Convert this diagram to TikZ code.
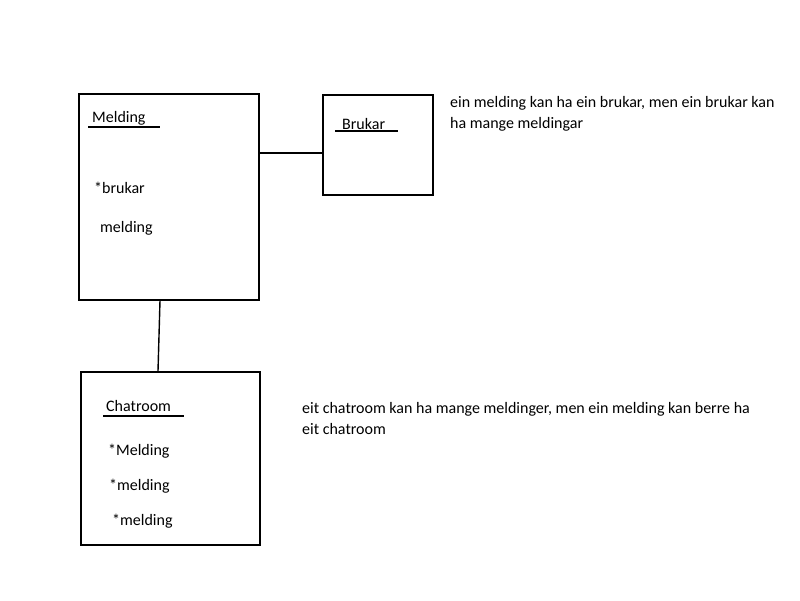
\documentclass[tikz,border=0pt]{standalone}
\usepackage{fontspec}
\setmainfont{Carlito}
\begin{document}
\begin{tikzpicture}[x=1pt,y=-1pt,
  box/.style={draw=black,line width=1.6pt,inner sep=0pt,anchor=north west},
  txt/.style={anchor=west,inner sep=0pt,font=\fontsize{16}{21}\selectfont},
  link/.style={draw=black,line width=1.4pt},
  uline/.style={draw=black,line width=1.2pt}]
\useasboundingbox (0,0) rectangle (800,600);
% boxes
\node[box,minimum width=180pt,minimum height=206pt] (melding) at (78,93) {};
\node[box,minimum width=110pt,minimum height=100pt] (brukar) at (322,94) {};
\node[box,minimum width=179pt,minimum height=173pt] (chatroom) at (80,371) {};
% connectors
\draw[link] (melding.east |- 0,153) -- (brukar.west |- 0,153);
\draw[link] (melding.south -| 160,0) -- (chatroom.north -| 158,0);
% titles
\node[txt] (tmelding) at (92,118) {Melding};
\draw[uline] (88,127) -- (160,127);
\node[txt] (tbrukar) at (342,124) {Brukar};
\draw[uline] (335,131) -- (398,131);
\node[txt] (tchat) at (106,406) {Chatroom};
\draw[uline] (103,416) -- (184,416);
% attributes
\node[txt] (a1) at (94,188) {*brukar};
\node[txt] (a2) at (100,228) {melding};
\node[txt] (c1) at (108,451) {*Melding};
\node[txt] (c2) at (109,486) {*melding};
\node[txt] (c3) at (112,521) {*melding};
% notes
\node[txt,anchor=north west,align=left] (n1) at (450,96) {ein melding kan ha ein brukar, men ein brukar kan\\ha mange meldingar};
\node[txt,anchor=north west,align=left] (n2) at (302,402) {eit chatroom kan ha mange meldinger, men ein melding kan berre ha\\eit chatroom};
\end{tikzpicture}
\end{document}
